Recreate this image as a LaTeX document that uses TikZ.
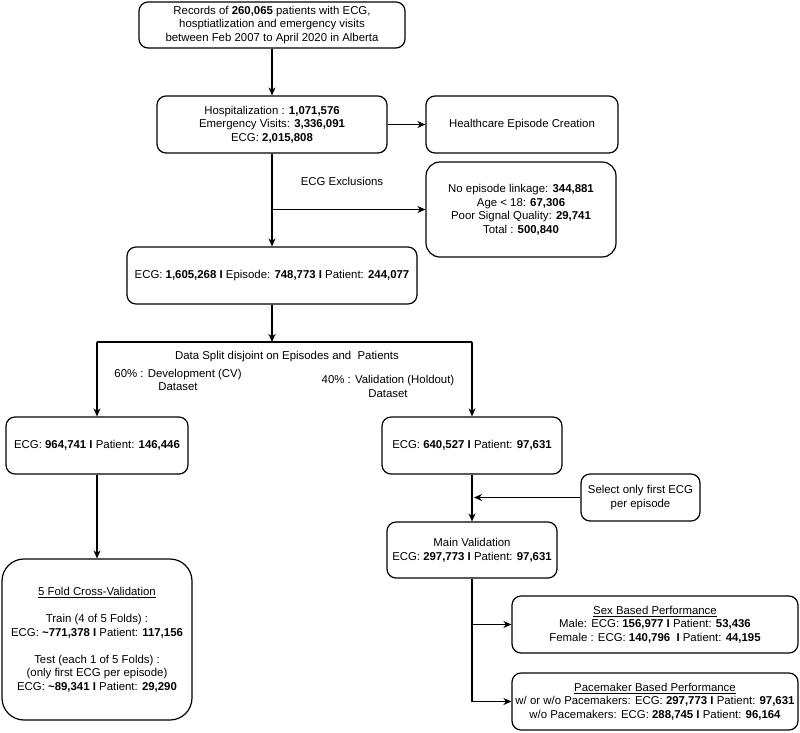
\documentclass[tikz,border=0pt]{standalone}
\usepackage{fontspec}
\setmainfont{Liberation Sans}
\usetikzlibrary{arrows.meta}
\newcommand{\fs}{\fontsize{11.4}{13.5}\selectfont}
\begin{document}
\begin{tikzpicture}[x=1pt,y=-1pt,
  box/.style={draw, line width=1.2pt, rounded corners=9pt, align=center, inner sep=0pt, font=\fs},
  lbl/.style={align=center, inner sep=0pt, font=\fs},
  arr/.style={-{Stealth[length=8pt,width=7pt,inset=2.5pt]}, line width=1.2pt},
  ln/.style={line width=1.2pt}]
\useasboundingbox (0,0) rectangle (800,732);

\node[box, minimum width=266pt, minimum height=46pt] (rec) at (272,25)
  {Records of \textbf{260,065} patients with ECG,\\hosptiatlization and emergency visits\\between Feb 2007 to April 2020 in Alberta};
\node[box, minimum width=230pt, minimum height=57pt] (hosp) at (272,124.5)
  {Hospitalization : \textbf{1,071,576}\\Emergency Visits: \textbf{3,336,091}\\ECG: \textbf{2,015,808}};
\node[box, minimum width=192pt, minimum height=57pt] (hec) at (522,124.5)
  {Healthcare Episode Creation};
\node[box, rounded corners=14pt, minimum width=190pt, minimum height=95pt] (excl) at (521,209.5)
  {No episode linkage: \textbf{344,881}\\Age < 18: \textbf{67,306}\\Poor Signal Quality: \textbf{29,741}\\Total : \textbf{500,840}};
\node[box, minimum width=290pt, minimum height=57pt] (ecg) at (272,275.5)
  {ECG: \textbf{1,605,268 I} Episode: \textbf{748,773 I} Patient: \textbf{244,077}};
\node[box, minimum width=182pt, minimum height=57pt] (dev) at (97,445.5)
  {ECG: \textbf{964,741 I} Patient: \textbf{146,446}};
\node[box, minimum width=180pt, minimum height=57pt] (val) at (472,445.5)
  {ECG: \textbf{640,527 I} Patient: \textbf{97,631}};
\node[box, minimum width=119pt, minimum height=47pt] (sel) at (640.5,497.5)
  {Select only first ECG\\per episode};
\node[box, minimum width=170pt, minimum height=56pt] (main) at (472,550)
  {Main Validation\\ECG: \textbf{297,773 I} Patient: \textbf{97,631}};
\node[box, rounded corners=22pt, minimum width=190pt, minimum height=161pt] (cv) at (97,639.5)
  {\underline{5 Fold Cross-Validation}\\[13.5pt]Train (4 of 5 Folds) :\\ECG: \textbf{\textasciitilde771,378 I} Patient: \textbf{117,156}\\[13.5pt]Test (each 1 of 5 Folds) :\\(only first ECG per episode)\\ECG: \textbf{\textasciitilde89,341 I} Patient: \textbf{29,290}};
\node[box, minimum width=286pt, minimum height=57pt] (sex) at (655,624.5)
  {\underline{Sex Based Performance}\\Male: ECG: \textbf{156,977 I} Patient: \textbf{53,436}\\Female : ECG: \textbf{140,796\ \ I} Patient: \textbf{44,195}};
\node[box, minimum width=286pt, minimum height=57pt] (pace) at (655,701.5)
  {\underline{Pacemaker Based Performance}\\w/ or w/o Pacemakers: ECG: \textbf{297,773 I} Patient: \textbf{97,631}\\w/o Pacemakers: ECG: \textbf{288,745 I} Patient: \textbf{96,164}};

\node[lbl] (exlbl) at (342,181) {ECG Exclusions};
\node[lbl] (splbl) at (287,357) {Data Split disjoint on Episodes and\ \ Patients};
\node[lbl] (devlbl) at (178,380) {60\% : Development (CV)\\Dataset};
\node[lbl] (vallbl) at (388,386.5) {40\% : Validation (Holdout)\\Dataset};

\draw[arr] (rec.south) -- (hosp.north);
\draw[arr] (hosp.east) -- (hec.west);
\draw[arr] (hosp.south) -- (ecg.north);
\coordinate (br) at (hosp.south |- excl.west);
\draw[arr] (br) -- (excl.west);
\coordinate (sp) at (272,342);
\draw[arr] (ecg.south) -- (sp);
\coordinate (spl) at (dev.north |- sp);
\coordinate (spr) at (val.north |- sp);
\draw[ln] (spl) -- (spr);
\draw[arr] (spl) -- (dev.north);
\draw[arr] (spr) -- (val.north);
\draw[arr] (dev.south) -- (cv.north);
\draw[arr] (val.south) -- (main.north);
\coordinate (selj) at (val.south |- sel.west);
\draw[arr] (sel.west) -- ([xshift=2pt]selj);
\draw[arr] (main.south) |- (pace.west);
\coordinate (sexj) at (main.south |- sex.west);
\draw[arr] (sexj) -- (sex.west);
\end{tikzpicture}
\end{document}
